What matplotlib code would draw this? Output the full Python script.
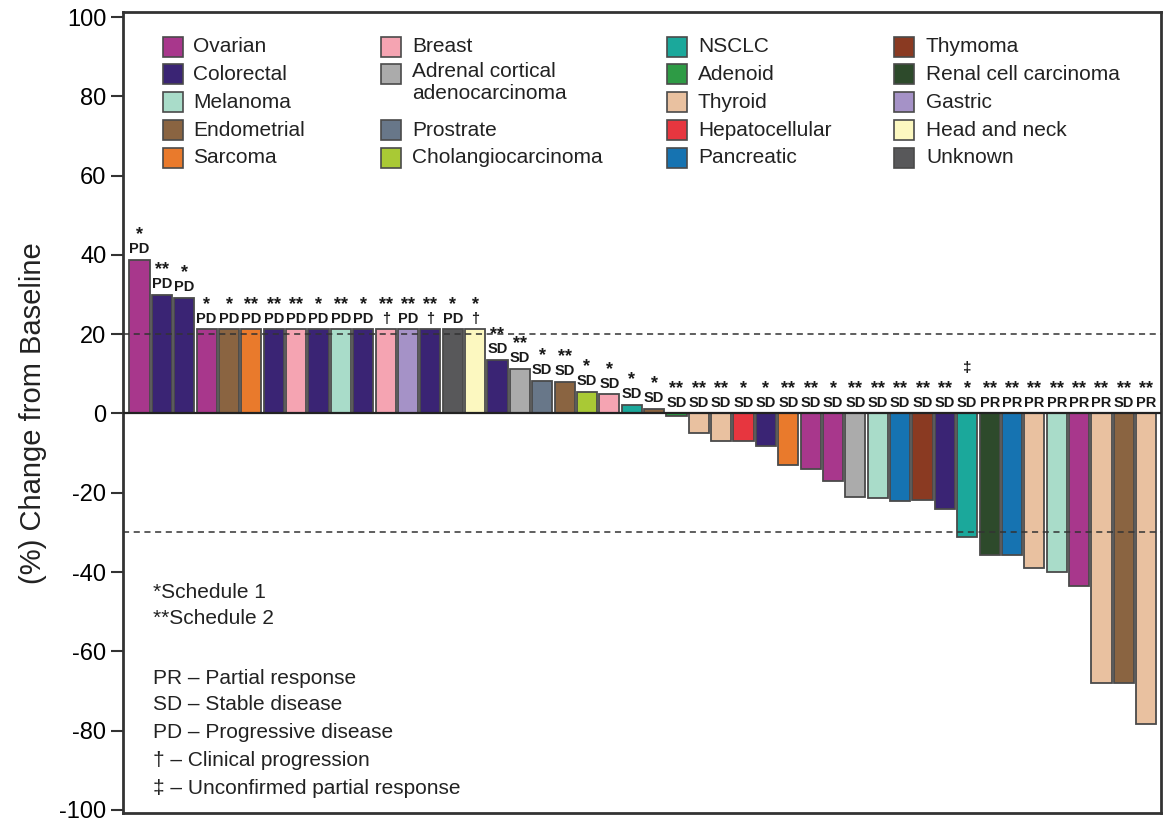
import matplotlib
matplotlib.use('Agg')
import matplotlib.pyplot as plt
from matplotlib.patches import Rectangle

plt.rcParams['font.family'] = ['Liberation Sans', 'DejaVu Sans']

# ---------------- data ----------------
tumor_types = [
    'Ovarian', 'Colorectal', 'Colorectal', 'Ovarian', 'Endometrial', 'Sarcoma',
    'Colorectal', 'Breast', 'Colorectal', 'Melanoma', 'Colorectal', 'Breast',
    'Gastric', 'Colorectal', 'Unknown', 'Head and neck', 'Colorectal',
    'Adrenal cortical adenocarcinoma', 'Prostrate', 'Endometrial',
    'Cholangiocarcinoma', 'Breast', 'NSCLC', 'Endometrial', 'Adenoid',
    'Thyroid', 'Thyroid', 'Hepatocellular', 'Colorectal', 'Sarcoma', 'Ovarian',
    'Ovarian', 'Adrenal cortical adenocarcinoma', 'Melanoma', 'Pancreatic',
    'Thymoma', 'Colorectal', 'NSCLC', 'Renal cell carcinoma', 'Pancreatic',
    'Thyroid', 'Melanoma', 'Ovarian', 'Thyroid', 'Endometrial', 'Thyroid',
]
pct_change = [
    38.7, 30.0, 29.2, 21.2, 21.2, 21.2, 21.2, 21.2, 21.2, 21.2, 21.2, 21.2,
    21.2, 21.2, 21.2, 21.2, 13.4, 11.3, 8.3, 7.9, 5.5, 4.8, 2.1, 1.2, -0.6,
    -5.0, -6.9, -6.9, -8.2, -13.1, -14.0, -17.1, -21.0, -21.4, -22.0, -21.9,
    -24.1, -31.2, -35.7, -35.7, -38.9, -40.0, -43.4, -68.1, -68.1, -78.4,
]
schedule = [
    '*', '**', '*', '*', '*', '**', '**', '**', '*', '**', '*', '**', '**',
    '**', '*', '*', '**', '**', '*', '**', '*', '*', '*', '*', '**', '**',
    '**', '*', '*', '**', '**', '*', '**', '**', '**', '**', '**', '*', '**',
    '**', '**', '**', '**', '**', '**', '**',
]
response = (['PD'] * 11 + ['\u2020', 'PD', '\u2020', 'PD', '\u2020'] + ['SD'] * 22
            + ['PR'] * 6 + ['SD', 'PR'])
extra_mark = [''] * 37 + ['\u2021'] + [''] * 8

tumor_colors = {
    'Ovarian': '#A8378C', 'Colorectal': '#3A2474', 'Melanoma': '#A9DCC9',
    'Endometrial': '#8A6441', 'Sarcoma': '#E97A2C', 'Breast': '#F5A4B2',
    'Adrenal cortical adenocarcinoma': '#ABABAB', 'Prostrate': '#687789',
    'Cholangiocarcinoma': '#A9C935', 'NSCLC': '#1BA89B', 'Adenoid': '#2E9B45',
    'Thyroid': '#E9C1A0', 'Hepatocellular': '#E7363F', 'Pancreatic': '#1673B1',
    'Thymoma': '#8A3A22', 'Renal cell carcinoma': '#2D4A2B', 'Gastric': '#A592C7',
    'Head and neck': '#FCF8C0', 'Unknown': '#58585A',
}
legend_columns = [
    ['Ovarian', 'Colorectal', 'Melanoma', 'Endometrial', 'Sarcoma'],
    ['Breast', 'Adrenal cortical adenocarcinoma', None, 'Prostrate', 'Cholangiocarcinoma'],
    ['NSCLC', 'Adenoid', 'Thyroid', 'Hepatocellular', 'Pancreatic'],
    ['Thymoma', 'Renal cell carcinoma', 'Gastric', 'Head and neck', 'Unknown'],
]
legend_display = {'Adrenal cortical adenocarcinoma': 'Adrenal cortical\nadenocarcinoma'}

notes = ['*Schedule 1', '**Schedule 2', 'PR \u2013 Partial response',
         'SD \u2013 Stable disease', 'PD \u2013 Progressive disease',
         '\u2020 \u2013 Clinical progression',
         '\u2021 \u2013 Unconfirmed partial response']
y_ticks = list(range(-100, 101, 20))

# ---------------- layout helpers (pixel -> axes fraction) ----------------
W, H = 1165, 823
AX_L, AX_R, AX_T, AX_B = 123, 1161, 12, 813


def axx(px):
    return (px - AX_L) / (AX_R - AX_L)


def axy(py):
    return (AX_B - py) / (AX_B - AX_T)


fig = plt.figure(figsize=(W / 100, H / 100), dpi=100)
ax = fig.add_axes([AX_L / W, 1 - AX_B / H, (AX_R - AX_L) / W, (AX_B - AX_T) / H])

xs = list(range(len(pct_change)))
ax.bar(xs, pct_change, width=0.9,
       color=[tumor_colors[t] for t in tumor_types],
       edgecolor='#4a4a4a', linewidth=1.3, zorder=2)

ax.axhline(0, color='#222222', lw=1.6, zorder=3)
for ref in (20, -30):
    ax.axhline(ref, color='#333333', lw=1.1, ls=(0, (4, 3)), zorder=4)

# annotations
for i, v in enumerate(pct_change):
    base = max(v, 0)
    ax.annotate(response[i], (i, base), xytext=(0, 5), textcoords='offset points',
                ha='center', va='baseline', fontsize=10.5, fontweight='bold',
                color='#1a1a1a')
    ax.annotate(schedule[i], (i, base), xytext=(0, 15), textcoords='offset points',
                ha='center', va='baseline', fontsize=13, fontweight='bold',
                color='#1a1a1a')
    if extra_mark[i]:
        ax.annotate(extra_mark[i], (i, base), xytext=(0, 30), textcoords='offset points',
                    ha='center', va='baseline', fontsize=11, fontweight='bold',
                    color='#1a1a1a')

ax.set_xlim(-0.74, len(pct_change) - 1 + 0.66)
ax.set_ylim(-100.8, 101.3)
ax.set_xticks([])
ax.set_yticks(y_ticks)
ax.set_yticklabels([str(t) for t in y_ticks])
ax.tick_params(axis='y', length=9, width=1.5, labelsize=17, pad=3, color='#333333')
for sp in ax.spines.values():
    sp.set_linewidth(2)
    sp.set_color('#333333')

fig.text(33 / W, 1 - 413 / H, '(%) Change from Baseline', rotation=90,
         ha='center', va='center', fontsize=21, color='#222222')

# legend (manual, 4 columns)
col_sq_left = [163, 381, 667, 894]
col_txt_left = [193, 412, 698, 926]
row_center = [46.5, 74.3, 102, 130, 157.5]
sq = 20
for c, col in enumerate(legend_columns):
    for r, name in enumerate(col):
        if name is None:
            continue
        yc = row_center[r]
        ax.add_patch(Rectangle((axx(col_sq_left[c]), axy(yc + sq / 2)),
                               sq / (AX_R - AX_L), sq / (AX_B - AX_T),
                               transform=ax.transAxes, facecolor=tumor_colors[name],
                               edgecolor='#4a4a4a', linewidth=1.2, clip_on=False, zorder=5))
        label = legend_display.get(name, name)
        if '\n' in label:
            ax.text(axx(col_txt_left[c]), axy(yc - 12), label, transform=ax.transAxes,
                    ha='left', va='top', fontsize=15, color='#222222', linespacing=1.15)
        else:
            ax.text(axx(col_txt_left[c]), axy(yc), label, transform=ax.transAxes,
                    ha='left', va='center', fontsize=15, color='#222222')

# notes bottom-left
note_y = [592, 618, 678, 705, 733, 760, 788]
for txt, py in zip(notes, note_y):
    ax.text(axx(153), axy(py), txt, transform=ax.transAxes, ha='left', va='center',
            fontsize=15, color='#222222')

fig.savefig('out.png', dpi=100)
